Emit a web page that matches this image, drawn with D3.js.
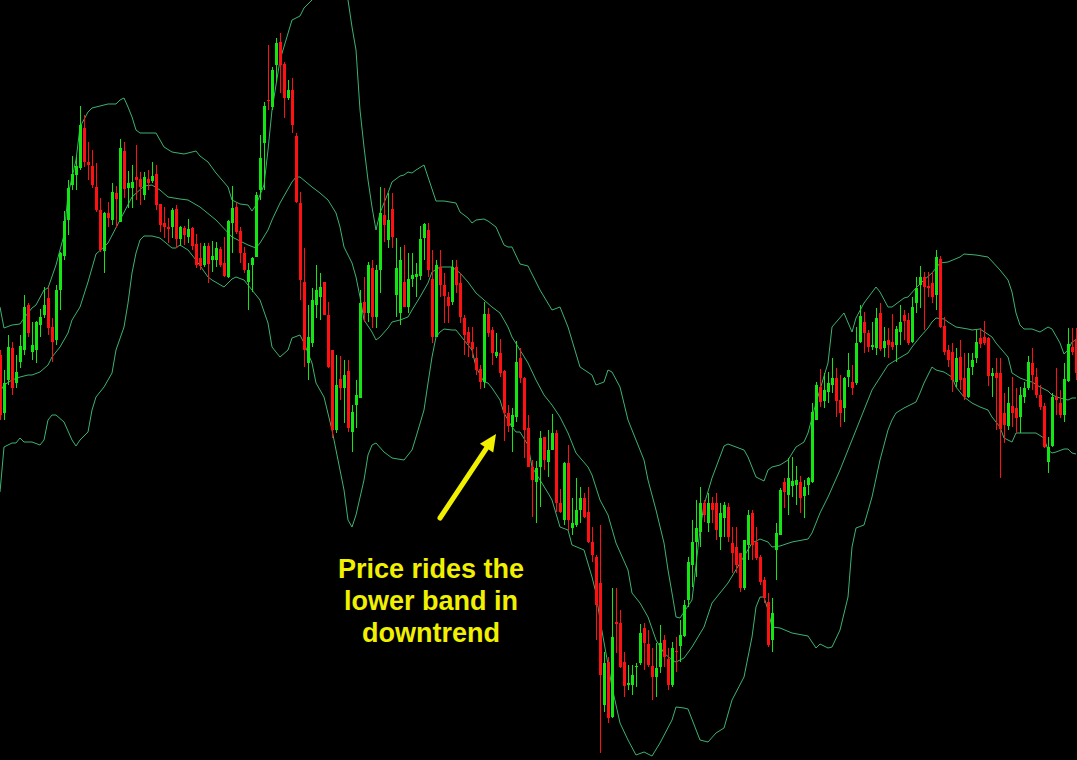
<!DOCTYPE html>
<meta charset="utf-8">
<style>
html, body {
  margin: 0;
  padding: 0;
  background: #000;
  overflow: hidden;
}
svg { display: block; }
.wick { stroke-width: 1; shape-rendering: crispEdges; }
.body { shape-rendering: crispEdges; }
.band { fill: none; stroke: #3cb371; stroke-width: 1; }
.note {
  font-family: "Liberation Sans", Arial, sans-serif;
  font-weight: 700;
  font-size: 27px;
  fill: #f0f000;
}
</style>
<svg id="chart"></svg>
<script src="https://d3js.org/d3.v7.min.js"></script>
<script>

// candle prices, one value per bar, left to right
const opens = [
  405,347,380,412,377,398,410,455,408,410, 435,445,462,433,420,470,504,540,575,585,
  592,632,598,594,573,550,509,547,540,567, 538,609,572,572,583,581,565,581,579,586,
  556,537,533,533,551,521,532,523,532,516, 502,495,514,500,500,511,497,483,537,553,
  529,507,478,495,503,570,617,660,653,695, 718,696,662,670,624,557,478,397,417,455,
  463,478,445,410,330,381,372,389,328,355, 362,458,447,492,443,490,545,520,551,465,
  447,478,453,481,483,484,522,530,481,423, 493,475,463,458,493,477,442,428,418,402,
  391,378,446,430,404,407,389,347,333,343, 402,382,332,293,278,293,323,298,310,327,
  257,240,297,232,235,250,262,248,218,203, 177,55,98,43,138,137,98,75,75,93,
  97,132,116,94,83,93,120,101,75,109, 114,124,160,195,218,228,257,237,257,257,
  223,242,253,217,213,207,172,215,247,218, 203,180,158,120,210,225,278,265,274,275,
  278,264,275,278,340,373,359,368,375,382, 360,352,383,378,377,418,438,427,413,412,
  447,412,420,418,415,428,445,440,418,457, 475,483,474,477,465,501,434,410,408,378,
  403,382,363,393,402,422,423,422,384,387, 387,347,334,354,352,343,363,372,397,383,
  365,354,298,314,363,357,345,379,413,421
];
const highs = [
  410,390,425,418,405,425,465,457,438,439, 451,473,473,442,475,508,549,580,604,603,
  654,645,618,610,597,562,548,558,577,574, 621,618,589,595,615,588,588,590,598,595,
  556,553,542,552,555,534,534,541,533,526, 517,517,517,519,518,513,523,540,574,557,
  533,513,497,503,568,625,658,715,693,722, 727,698,680,682,627,568,512,455,472,495,
  487,478,458,410,405,404,400,400,355,380, 470,483,498,500,495,573,572,567,567,522,
  513,515,507,507,497,534,537,537,510,500, 510,487,468,500,500,487,445,433,433,413,
  395,458,452,433,427,421,390,355,352,419, 412,383,345,300,299,329,323,330,346,330,
  271,298,315,262,282,273,267,273,233,205, 235,108,103,172,172,150,108,95,95,97,
  136,137,130,112,117,135,125,112,118,123, 140,160,203,240,260,273,260,267,263,267,
  257,258,257,233,233,207,220,250,250,233, 205,183,167,162,237,272,282,302,303,294,
  284,280,283,357,378,391,387,388,402,392, 385,383,407,395,433,455,448,430,438,452,
  457,433,432,446,434,455,450,447,463,483, 494,488,488,488,510,504,443,415,417,412,
  420,407,407,407,430,432,439,423,392,402, 402,367,373,383,372,373,378,404,412,392,
  375,357,323,367,392,370,397,432,432,432
];
const lows = [
  340,340,375,365,372,392,405,423,400,397, 423,442,425,398,415,450,500,525,570,570,
  590,593,580,572,548,508,487,533,535,532, 538,562,552,552,560,555,560,570,577,550,
  528,522,517,522,512,514,515,517,510,492, 490,493,477,488,493,493,483,482,507,526,
  497,487,450,468,503,560,570,650,650,678, 667,642,660,627,557,460,393,380,413,442,
  440,445,392,322,327,360,337,328,308,332, 362,438,438,432,432,467,518,512,512,443,
  435,453,447,473,463,480,500,483,417,423, 463,437,437,455,467,437,405,403,402,385,
  371,372,423,395,402,383,319,328,308,338, 377,302,293,243,237,253,290,283,310,248,
  247,235,230,225,233,237,242,217,198,120, 7,48,37,42,107,92,63,70,65,73,
  95,90,93,60,63,87,93,70,73,88, 98,123,153,173,183,213,238,228,237,220,
  210,223,218,187,187,168,170,200,200,200, 175,157,113,108,180,225,252,245,263,255,
  247,242,265,277,340,353,352,357,367,343, 333,338,373,365,375,417,407,408,410,405,
  409,403,402,410,398,415,420,415,417,447, 452,430,463,457,450,432,405,393,368,373,
  370,360,362,385,397,412,415,374,363,330, 282,317,330,333,327,327,357,370,370,362,
  350,312,287,313,345,342,338,378,405,380
];
const closes = [
  345,377,413,372,388,414,453,427,415,438, 443,455,432,418,470,507,539,572,586,594,
  635,598,595,575,550,510,547,542,568,561, 612,571,577,578,580,573,583,577,584,555,
  535,533,531,550,521,533,525,531,514,495, 494,514,496,504,512,495,484,539,552,528,
  507,490,490,502,565,602,654,659,690,717, 695,662,670,635,558,480,410,423,460,470,
  473,445,393,330,375,372,385,332,348,365, 457,447,495,443,490,547,535,540,523,492,
  500,453,481,485,486,521,536,490,423,495, 475,464,454,493,475,443,425,417,411,390,
  378,446,427,407,408,387,347,334,345,398, 382,330,293,280,292,322,300,310,327,257,
  248,297,240,237,250,262,243,218,205,155, 85,97,42,123,136,93,74,77,85,94,
  127,117,95,83,92,117,103,75,112,108, 125,155,198,218,232,257,245,257,250,230,
  247,255,223,207,195,172,220,245,215,202, 178,162,115,147,227,270,268,282,279,280,
  262,273,282,348,375,358,370,377,382,359, 347,382,390,372,417,444,427,413,415,442,
  411,419,415,413,431,438,439,417,453,472, 483,473,472,463,503,433,408,400,380,402,
  380,363,392,400,418,416,417,384,387,382, 331,335,357,347,342,365,372,398,385,365,
  353,313,313,363,360,345,381,416,408,387
];

// Bollinger band readings: [bar index, price]
const upperBand = [
  [0,453],[1,432],[3,435],[5,436],[6,442],[8,452],[9,455],[11,470],[12,472],[14,495],
  [16,525],[17,565],[19,600],[20,633],[22,648],[23,652],[25,654],[27,656],[29,656],[30,660],
  [31,662],[32,653],[33,643],[34,630],[35,627],[39,627],[40,620],[41,613],[43,608],[46,606],
  [48,608],[49,609],[50,604],[52,598],[54,587],[57,573],[58,560],[60,556],[62,555],[63,549],
  [64,555],[66,575],[67,610],[68,650],[70,700],[73,740],[75,744],[76,752],[78,760],[81,775],
  [85,770],[87,760],[88,733],[89,710],[90,650],[91,613],[92,580],[93,553],[94,530],[95,547],
  [97,567],[98,578],[100,584],[101,585],[102,588],[103,587],[104,590],[106,595],[107,583],[109,559],
  [111,559],[114,557],[115,548],[117,542],[118,537],[119,540],[121,541],[122,539],[124,533],[126,515],
  [127,513],[128,513],[130,496],[132,494],[135,470],[138,450],[140,453],[142,433],[145,393],[148,385],
  [149,375],[151,378],[152,390],[153,388],[155,373],[157,340],[161,300],[162,280],[164,250],[166,217],
  [167,190],[168,167],[169,143],[170,142],[171,148],[173,160],[175,230],[176,255],[178,282],[181,314],
  [182,316],[186,310],[187,303],[189,283],[191,279],[192,290],[193,293],[195,295],[197,300],[199,313],
  [201,318],[202,327],[204,357],[207,397],[208,433],[211,447],[213,428],[214,442],[216,457],[219,473],
  [220,468],[222,453],[223,453],[226,462],[227,463],[229,472],[231,480],[233,487],[235,497],[237,498],
  [240,503],[241,506],[244,505],[247,503],[250,490],[252,480],[253,468],[254,447],[255,435],[256,431],
  [258,431],[260,428],[262,433],[263,431],[265,417],[266,406],[267,410],[268,418],[269,420]
];
const middleBand = [
  [0,368],[1,375],[3,380],[5,383],[7,385],[8,385],[10,388],[12,395],[13,403],[15,413],
  [17,427],[18,440],[20,453],[22,478],[24,506],[26,513],[27,517],[30,540],[33,563],[36,574],
  [38,575],[40,570],[42,563],[45,561],[47,560],[50,553],[54,540],[58,523],[62,515],[64,512],
  [65,517],[67,530],[68,540],[70,557],[73,578],[74,583],[75,583],[78,573],[80,567],[82,560],
  [84,547],[85,533],[86,513],[88,497],[89,483],[90,463],[91,440],[93,428],[94,420],[95,423],
  [97,432],[98,438],[100,440],[102,443],[103,450],[105,463],[107,477],[108,488],[110,493],[113,493],
  [115,487],[117,478],[119,467],[121,460],[123,453],[125,447],[127,433],[128,423],[130,410],[132,397],
  [134,380],[136,365],[138,355],[140,343],[142,327],[144,307],[147,293],[148,285],[150,260],[152,245],
  [154,217],[157,190],[158,167],[160,157],[162,143],[164,120],[166,107],[168,100],[169,98],[171,102],
  [173,113],[176,133],[178,157],[182,177],[185,197],[188,217],[190,221],[192,218],[193,213],[195,214],
  [198,218],[202,221],[203,227],[205,247],[207,263],[210,290],[214,330],[218,370],[222,395],[224,400],
  [227,407],[228,413],[230,423],[232,432],[233,438],[234,442],[236,441],[237,438],[239,433],[242,431],
  [243,430],[245,431],[248,423],[249,417],[252,403],[253,387],[255,382],[257,379],[258,378],[260,373],
  [262,369],[263,365],[265,362],[267,360],[268,362],[269,362]
];
const lowerBand = [
  [0,268],[1,313],[3,317],[4,317],[5,322],[6,318],[8,318],[10,315],[11,320],[12,340],
  [13,345],[14,345],[16,338],[18,320],[19,314],[20,320],[22,328],[23,350],[24,363],[26,373],
  [28,387],[29,410],[31,433],[32,457],[33,487],[34,507],[35,520],[36,524],[38,524],[40,522],
  [43,512],[44,512],[45,515],[47,510],[49,500],[52,483],[53,480],[56,473],[58,481],[59,483],
  [61,480],[63,470],[65,460],[67,437],[68,413],[70,403],[72,410],[73,422],[75,425],[76,417],
  [78,397],[79,377],[81,363],[83,330],[84,310],[86,270],[87,240],[88,233],[89,245],[91,280],
  [92,305],[93,315],[94,317],[96,308],[98,302],[101,300],[103,310],[104,323],[106,350],[107,377],
  [108,403],[109,423],[110,428],[111,431],[113,430],[114,430],[116,420],[118,410],[119,393],[121,378],
  [122,377],[123,372],[125,360],[126,347],[128,333],[129,328],[130,328],[132,315],[133,293],[135,280],
  [137,267],[138,260],[140,233],[142,230],[143,215],[146,210],[148,183],[149,167],[150,140],[153,73],
  [155,37],[157,20],[159,5],[161,8],[163,4],[165,17],[168,40],[169,53],[171,52],[172,51],
  [175,20],[177,18],[179,27],[181,32],[183,60],[186,83],[188,123],[189,153],[190,163],[191,163],
  [192,150],[193,133],[195,132],[198,127],[202,124],[204,112],[205,116],[207,112],[208,113],[210,130],
  [212,163],[213,213],[214,232],[216,235],[218,263],[220,300],[222,330],[223,340],[224,347],[226,352],
  [228,356],[229,358],[230,367],[231,377],[232,385],[233,393],[234,390],[236,388],[238,383],[239,373],
  [241,363],[243,357],[245,353],[247,350],[248,343],[250,333],[251,322],[252,320],[253,318],[254,327],
  [256,327],[259,327],[261,322],[262,310],[263,307],[264,308],[266,311],[267,311],[268,307],[269,306]
];

// annotation: arrow from tail to tip ([bar index, price]), text under the tail
const noteLines = ["Price rides the", "lower band in", "downtrend"];
const arrowTail = [110, 242];
const arrowTip = [124, 326];
const noteAt = [107.75, 182];

const width = 1077, height = 760;
const bull = "#14e614", bear = "#ff1111";

const svg = d3.select("#chart")
  .attr("width", width)
  .attr("height", height)
  .style("background", "#000");

const x = d3.scaleLinear().domain([0, opens.length - 1]).range([0, 1076]);
const y = d3.scaleLinear().domain([0, 760]).range([height, 0]);

const bars = opens.map((o, i) => ({i: i, o: o, h: highs[i], l: lows[i], c: closes[i]}));

// bands first so the candles sit on top
const line = d3.line()
  .x(d => x(d[0]))
  .y(d => y(d[1]));

svg.selectAll(".band")
  .data([upperBand, middleBand, lowerBand])
  .enter()
  .append("path")
  .attr("class", "band")
  .attr("d", line);

const candle = svg.append("g").selectAll("g")
  .data(bars)
  .enter()
  .append("g");

candle.append("line")
  .attr("class", "wick")
  .attr("x1", d => Math.round(x(d.i)) + 0.5)
  .attr("x2", d => Math.round(x(d.i)) + 0.5)
  .attr("y1", d => y(d.h))
  .attr("y2", d => y(d.l))
  .attr("stroke", d => d.c >= d.o ? bull : bear);

candle.append("rect")
  .attr("class", "body")
  .attr("x", d => Math.round(x(d.i)) - 1)
  .attr("width", 3)
  .attr("y", d => y(Math.max(d.o, d.c)))
  .attr("height", d => Math.max(1, Math.abs(y(d.o) - y(d.c))))
  .attr("fill", d => d.c >= d.o ? bull : bear);

// arrow
const ax0 = x(arrowTail[0]), ay0 = y(arrowTail[1]);
const ax1 = x(arrowTip[0]), ay1 = y(arrowTip[1]);
const len = Math.hypot(ax1 - ax0, ay1 - ay0);
const ux = (ax1 - ax0) / len, uy = (ay1 - ay0) / len;
const headLen = 17, headHalf = 8;
const bx = ax1 - ux * headLen, by = ay1 - uy * headLen;

svg.append("line")
  .attr("x1", ax0).attr("y1", ay0)
  .attr("x2", bx + ux * 2).attr("y2", by + uy * 2)
  .attr("stroke", "#f0f000")
  .attr("stroke-width", 5)
  .attr("stroke-linecap", "round");

svg.append("polygon")
  .attr("points", [
    [ax1, ay1],
    [bx - uy * headHalf, by + ux * headHalf],
    [bx + uy * headHalf, by - ux * headHalf]
  ].map(p => p.join(",")).join(" "))
  .attr("fill", "#f0f000");

// note text
const note = svg.append("text")
  .attr("class", "note")
  .attr("text-anchor", "middle")
  .attr("x", x(noteAt[0]))
  .attr("y", y(noteAt[1]));

note.selectAll("tspan")
  .data(noteLines)
  .enter()
  .append("tspan")
  .attr("x", x(noteAt[0]))
  .attr("dy", (d, i) => i === 0 ? 0 : 32)
  .text(d => d);

</script>
